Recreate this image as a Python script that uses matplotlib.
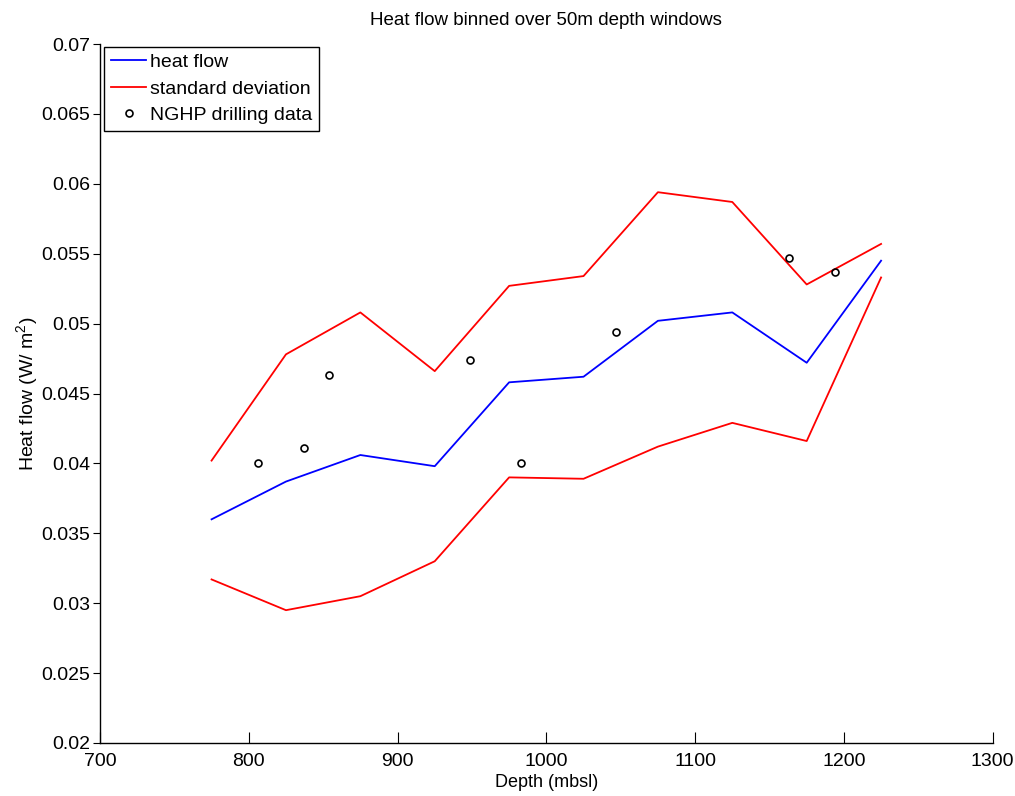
import matplotlib
matplotlib.use("Agg")
import matplotlib.pyplot as plt

plt.rcParams['font.family'] = ['Liberation Sans', 'DejaVu Sans']
plt.rcParams['mathtext.fontset'] = 'custom'
plt.rcParams['mathtext.rm'] = 'Liberation Sans'

depth = [775, 825, 875, 925, 975, 1025, 1075, 1125, 1175, 1225]
heat_flow = [0.0360, 0.0387, 0.0406, 0.0398, 0.0458, 0.0462, 0.0502, 0.0508, 0.0472, 0.0545]
std_upper = [0.0402, 0.0478, 0.0508, 0.0466, 0.0527, 0.0534, 0.0594, 0.0587, 0.0528, 0.0557]
std_lower = [0.0317, 0.0295, 0.0305, 0.0330, 0.0390, 0.0389, 0.0412, 0.0429, 0.0416, 0.0533]

nghp_depth = [806, 837, 854, 949, 983, 1047, 1163, 1194]
nghp_hf = [0.0400, 0.0411, 0.0463, 0.0474, 0.0400, 0.0494, 0.0547, 0.0537]

xticks = [700, 800, 900, 1000, 1100, 1200, 1300]
yticks = [0.02, 0.025, 0.03, 0.035, 0.04, 0.045, 0.05, 0.055, 0.06, 0.065, 0.07]
ytick_labels = ['0.02', '0.025', '0.03', '0.035', '0.04', '0.045', '0.05', '0.055', '0.06', '0.065', '0.07']

fig = plt.figure(figsize=(10.15, 7.96), dpi=100)
ax = fig.add_axes([0.0985, 0.0666, 0.8795, 0.8781])

ax.plot(depth, heat_flow, color='#0000ff', lw=1.3, label='heat flow')
ax.plot(depth, std_upper, color='#ff0000', lw=1.3, label='standard deviation')
ax.plot(depth, std_lower, color='#ff0000', lw=1.3)
ax.plot(nghp_depth, nghp_hf, linestyle='none', marker='o', markersize=5,
        markerfacecolor='none', markeredgecolor='black', markeredgewidth=1.2,
        label='NGHP drilling data')

ax.set_xlim(700, 1300)
ax.set_ylim(0.02, 0.07)
ax.set_xticks(xticks)
ax.set_xticklabels([str(t) for t in xticks])
ax.set_yticks(yticks)
ax.set_yticklabels(ytick_labels)

ax.spines['top'].set_visible(False)
ax.spines['right'].set_visible(False)
ax.spines['left'].set_linewidth(1.0)
ax.spines['bottom'].set_linewidth(1.0)
ax.tick_params(axis='x', direction='in', length=8, labelsize=14, pad=7)
ax.tick_params(axis='y', direction='out', length=5, labelsize=14, pad=2)

ax.set_xlabel('Depth (mbsl)', fontsize=13, labelpad=3)
ax.set_ylabel('Heat flow (W/ m$^2$)', fontsize=14, labelpad=0)
ax.set_title('Heat flow binned over 50m depth windows', fontsize=13.5, pad=14)

leg = ax.legend(loc='upper left', bbox_to_anchor=(0.005, 0.996), fontsize=14,
                frameon=True, fancybox=False, edgecolor='black', framealpha=1,
                handlelength=1.8, handletextpad=0.2, borderpad=0.35, labelspacing=0.45,
                borderaxespad=0)
leg.get_frame().set_linewidth(1.0)

fig.savefig('out.png', dpi=100)
